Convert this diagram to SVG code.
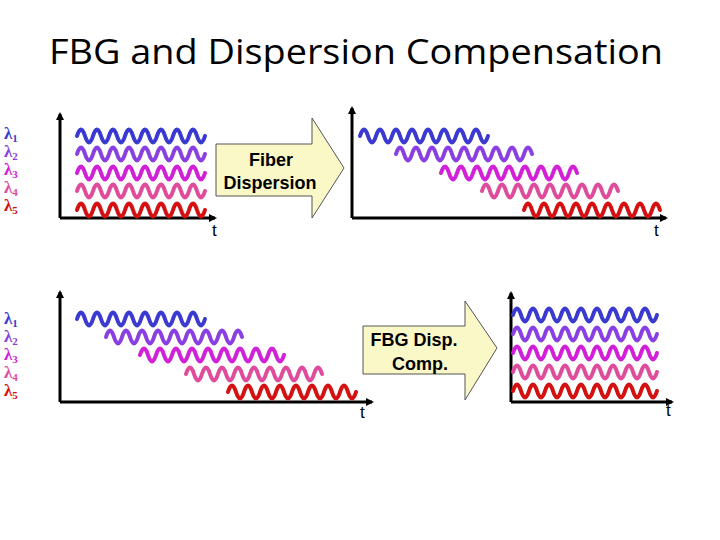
<svg xmlns="http://www.w3.org/2000/svg" xmlns:xlink="http://www.w3.org/1999/xlink" width="720" height="540" viewBox="0 0 720 540">
<style>
.w{fill:none;stroke-width:4;stroke-linecap:round}
.c1{stroke:#3a3ad0}.c2{stroke:#8a40e0}.c3{stroke:#d020d8}.c4{stroke:#e04c9c}.c5{stroke:#d41010}
.ax{fill:none;stroke:#000;stroke-width:3}
.lam{font-family:'Liberation Serif',serif;font-weight:bold;font-size:17px}
.lam tspan.s{font-size:11px}
.t{font-family:'Liberation Sans',sans-serif;font-size:17px;fill:#000}
.arr{fill:#fbf8c8;stroke:#555;stroke-width:1}
.at{font-family:'Liberation Sans',sans-serif;font-weight:bold;font-size:18px;text-anchor:middle}
.f1{fill:#3a3ad0}.f2{fill:#8a40e0}.f3{fill:#d020d8}.f4{fill:#e04c9c}.f5{fill:#d41010}
</style>
<defs>
<marker id="ah" markerWidth="8" markerHeight="8" refX="6" refY="4" orient="auto" markerUnits="userSpaceOnUse"><path d="M0,0 L8,4 L0,8 z" fill="#000"/></marker>
<path id="w16" d="M0,0 q4,-13 8,0 t8,0 t8,0 t8,0 t8,0 t8,0 t8,0 t8,0 t8,0 t8,0 t8,0 t8,0 t8,0 t8,0 t8,0 t8,0"/>
<path id="w17" d="M0,0 q4,-13 8,0 t8,0 t8,0 t8,0 t8,0 t8,0 t8,0 t8,0 t8,0 t8,0 t8,0 t8,0 t8,0 t8,0 t8,0 t8,0 t8,0"/>
<path id="w18" d="M0,0 q4,-13 8,0 t8,0 t8,0 t8,0 t8,0 t8,0 t8,0 t8,0 t8,0 t8,0 t8,0 t8,0 t8,0 t8,0 t8,0 t8,0 t8,0 t8,0"/>
</defs>
<rect width="720" height="540" fill="#fff"/>
<text x="356" y="64" text-anchor="middle" font-family="'Open Sans','Liberation Sans',sans-serif" font-size="35" textLength="614" lengthAdjust="spacingAndGlyphs">FBG and Dispersion Compensation</text>

<g id="panel1">
<text class="lam f1" x="4" y="139">λ<tspan class="s" dy="3">1</tspan></text>
<text class="lam f2" x="4" y="157">λ<tspan class="s" dy="3">2</tspan></text>
<text class="lam f3" x="4" y="175">λ<tspan class="s" dy="3">3</tspan></text>
<text class="lam f4" x="4" y="193">λ<tspan class="s" dy="3">4</tspan></text>
<text class="lam f5" x="4" y="211">λ<tspan class="s" dy="3">5</tspan></text>
<path class="ax" d="M60,218 V114" marker-end="url(#ah)"/>
<path class="ax" d="M60,218 H215" marker-end="url(#ah)"/>
<text class="t" x="212" y="236">t</text>
<use href="#w16" class="w c1" x="77" y="136"/>
<use href="#w16" class="w c2" x="77" y="154"/>
<use href="#w16" class="w c3" x="77" y="173"/>
<use href="#w16" class="w c4" x="77" y="191"/>
<use href="#w16" class="w c5" x="77" y="210"/>
</g>

<g id="arrow1">
<path class="arr" d="M216,144 H312 V118 L344,168 L312,218 V196 H216 Z"/>
<text class="at" x="271" y="166">Fiber</text>
<text class="at" x="270" y="189">Dispersion</text>
</g>

<g id="panel2">
<path class="ax" d="M352,218 V108" marker-end="url(#ah)"/>
<path class="ax" d="M352,218 H666" marker-end="url(#ah)"/>
<text class="t" x="654" y="236">t</text>
<use href="#w16" class="w c1" x="360" y="136"/>
<use href="#w17" class="w c2" x="396" y="154"/>
<use href="#w17" class="w c3" x="441" y="173"/>
<use href="#w17" class="w c4" x="482" y="191"/>
<use href="#w17" class="w c5" x="524" y="210"/>
</g>

<g id="panel3">
<text class="lam f1" x="4" y="324">λ<tspan class="s" dy="3">1</tspan></text>
<text class="lam f2" x="4" y="342">λ<tspan class="s" dy="3">2</tspan></text>
<text class="lam f3" x="4" y="360">λ<tspan class="s" dy="3">3</tspan></text>
<text class="lam f4" x="4" y="378">λ<tspan class="s" dy="3">4</tspan></text>
<text class="lam f5" x="4" y="396">λ<tspan class="s" dy="3">5</tspan></text>
<path class="ax" d="M60,402 V292" marker-end="url(#ah)"/>
<path class="ax" d="M60,402 H372" marker-end="url(#ah)"/>
<text class="t" x="360" y="418">t</text>
<use href="#w16" class="w c1" x="77" y="319"/>
<use href="#w17" class="w c2" x="106" y="337"/>
<use href="#w18" class="w c3" x="140" y="355"/>
<use href="#w17" class="w c4" x="186" y="374"/>
<use href="#w16" class="w c5" x="228" y="392"/>
</g>

<g id="arrow2">
<path class="arr" d="M363,326 H465 V301 L497,348 L465,400 V374 H363 Z"/>
<text class="at" x="414" y="346">FBG Disp.</text>
<text class="at" x="420" y="370">Comp.</text>
</g>

<g id="panel4">
<path class="ax" d="M511,402 V293" marker-end="url(#ah)"/>
<path class="ax" d="M511,402 H672" marker-end="url(#ah)"/>
<text class="t" x="666" y="416">t</text>
<use href="#w18" class="w c1" x="513" y="315"/>
<use href="#w18" class="w c2" x="513" y="334"/>
<use href="#w18" class="w c3" x="513" y="353"/>
<use href="#w18" class="w c4" x="513" y="372"/>
<use href="#w18" class="w c5" x="513" y="391"/>
</g>
</svg>
